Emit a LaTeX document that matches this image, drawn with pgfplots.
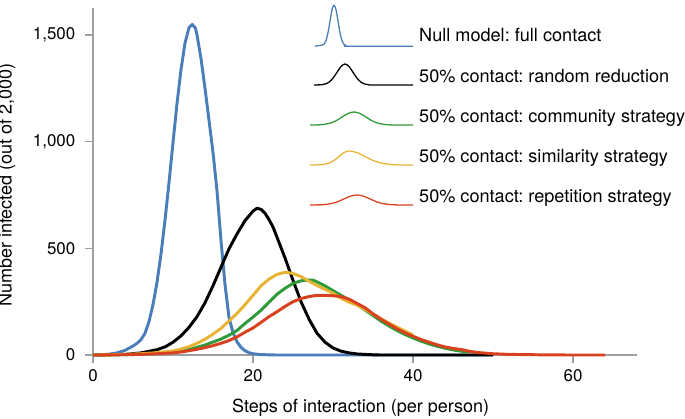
\documentclass[border=0pt]{standalone}
\usepackage{fontspec}
\setmainfont{TeX Gyre Heros}
\usepackage{pgfplots}
\pgfplotsset{compat=1.18}

\definecolor{cblue}{RGB}{74,126,187}
\definecolor{cgreen}{RGB}{47,154,58}
\definecolor{cyellow}{RGB}{232,179,50}
\definecolor{cred}{RGB}{217,65,30}
\definecolor{axgray}{RGB}{160,160,160}

% 1 px of the reference = 0.5435pt
\def\u{0.5435pt}

\begin{document}
\frenchspacing
\begin{tikzpicture}
\begin{axis}[
  name=ax,
  scale only axis,
  width=295.7pt, height=188.6pt,
  xmin=0, xmax=68, ymin=0, ymax=1627,
  axis lines=left,
  axis line style={-, draw=axgray, line width=0.8pt},
  tick style={draw=axgray, line width=0.8pt},
  tick align=outside,
  major tick length=4.6pt,
  xtick={0,20,40,60},
  ytick={0,500,1000,1500},
  scaled ticks=false,
  /pgf/number format/assume math mode=true,
  /pgf/number format/1000 sep={,},
  tick label style={font=\fontsize{9.2}{11}\selectfont},
  yticklabel style={xshift=-1.5pt},
  label style={font=\fontsize{9.8}{12}\selectfont},
  xlabel={Steps of interaction (per person)},
  ylabel={Number infected (out of 2,000)},
  xlabel style={at={(axis description cs:0.492,-0.152)}, anchor=center},
  ylabel style={at={(axis description cs:-0.158,0.49)}, anchor=center, rotate=0},
  clip=false,
  every axis plot/.append style={line width=1.6pt, line join=round},
  legend cell align=left,
  legend style={draw=none, fill=none, inner sep=0pt,
    at={(rel axis cs:0.397,1.011)}, anchor=north west,
    row sep=7.74pt, column sep=3pt,
    nodes={inner sep=0pt, minimum height=14pt, font=\fontsize{9.85}{12}\selectfont}},
]

% null model: full contact
\addplot[color=cblue, legend image code/.code={
  \draw[line width=0.7pt, x=\u, y=\u, yshift=-10*\u] plot[smooth, tension=0.5] coordinates {
   (3,0) (7,0.6) (10,1.2) (12,2) (14,5.6) (16,13.5) (18,25) (20,36.5) (22,41) (24,36.5)
   (26,25) (28,13.5) (30,5.6) (32,1.9) (34,0.5) (37,0) (101,0)};}]
coordinates {
 (0,0) (1,1) (2,4) (3,10) (4,22) (5,42) (5.5,55) (6,72) (6.5,102) (7,157)
 (7.5,236) (8,341) (8.5,474) (9,632) (9.5,809) (10,997) (10.5,1179) (11,1339)
 (11.5,1463) (12,1535) (12.4,1550) (12.8,1533) (13,1500) (13.5,1390) (14,1250)
 (14.5,1100) (15,950) (15.5,770) (16,535) (16.5,330) (17,175) (17.5,105)
 (18,62) (18.5,36) (19,20) (19.5,11) (20,6) (21,2) (22,1) (23,0) (50,0)
};
\addlegendentry{Null model: full contact}

% random reduction
\addplot[color=black, legend image code/.code={
  \draw[line width=0.7pt, x=\u, y=\u, yshift=-8*\u] plot[smooth, tension=0.5] coordinates {
   (2,0) (9,0.2) (13,0.9) (17,2.8) (21,6.8) (25,12.7) (29,18.5) (33,21) (37,18.5)
   (41,12.7) (45,6.8) (49,2.8) (53,0.9) (57,0.2) (61,0) (101,0)};}]
coordinates {
 (0,0) (2,1) (4,3) (6,10) (8,25) (9,38) (10,60) (11,90) (12,130) (13,180)
 (14,245) (15,325) (16,412) (17,498) (18,568) (19,630) (20,675) (20.5,688)
 (21,683) (21.5,665) (22,635) (22.5,600) (23,552) (24,455) (25,350) (26,250)
 (27,168) (28,102) (29,60) (30,33) (31,18) (32,10) (33,5) (34,3) (35,1) (36,0) (50,0)
};
\addlegendentry{50\% contact: random reduction}

% community strategy
\addplot[color=cgreen, legend image code/.code={
  \draw[line width=0.7pt, x=\u, y=\u, yshift=-8*\u] plot[smooth, tension=0.5] coordinates {
   (-2,0) (6,0.1) (12,0.6) (18,1.8) (24,4.2) (30,7.9) (36,11.5) (42,13) (48,11.5)
   (54,7.9) (60,4.2) (66,1.8) (72,0.6) (78,0.1) (84,0) (101,0)};}]
coordinates {
 (0,0) (2,1) (4,2) (6,4) (8,8) (10,14) (11,19) (12,26) (13,36) (14,47) (15,61)
 (16,75) (17,93) (18,115) (19,148) (20,178) (21,210) (22,248) (23,285) (24,313)
 (25,336) (26,348) (27,352) (27.5,351) (28,343) (29,324) (30,302) (31,280)
 (32,259) (33,236) (34,211) (35,185) (36,159) (37,136) (38,115) (39,96) (40,80)
 (41,65) (42,52) (43,41) (44,32) (45,24) (46,18) (47,13)
};
\addlegendentry{50\% contact: community strategy}

% similarity strategy
\addplot[color=cyellow, legend image code/.code={
  \draw[line width=0.7pt, x=\u, y=\u, yshift=-8*\u] plot[smooth, tension=0.5] coordinates {
   (-2,0) (7,0.15) (12,0.6) (17,1.9) (22,4.5) (27,8.5) (32,12.4) (37,14) (45,12.4)
   (53,8.5) (61,4.5) (69,1.9) (77,0.6) (85,0.1) (92,0) (101,0)};}]
coordinates {
 (0,0) (2,1) (4,3) (6,6) (8,11) (10,19) (11,28) (12,39) (13,55) (14,74) (15,98)
 (16,125) (17,160) (18,195) (19,236) (20,280) (21,324) (22,356) (23,378)
 (24,388) (24.5,386) (25,382) (26,368) (27,346) (28,326) (29,308) (30,290)
 (31,266) (32,248) (33,234) (34,214) (35,192) (36,170) (37,150) (38,131)
 (39,112) (40,94)
};
\addlegendentry{50\% contact: similarity strategy}

% repetition strategy
\addplot[color=cred, legend image code/.code={
  \draw[line width=0.7pt, x=\u, y=\u, yshift=-8*\u] plot[smooth, tension=0.5] coordinates {
   (-2,0) (6,0.1) (12.5,0.44) (19,1.35) (25.5,3.2) (32,6.1) (38.5,8.8) (45,10)
   (51.5,8.8) (58,6.1) (64.5,3.2) (71,1.35) (77.5,0.44) (84,0.1) (90,0) (101,0)};}]
coordinates {
 (0,0) (2,0.5) (4,1.5) (6,3) (8,6) (10,10) (11,14) (12,20) (13,27) (14,35)
 (15,44) (16,55) (17,68) (18,85) (19,107) (20,127) (21,153) (22,180) (23,203)
 (24,228) (25,250) (26,265) (27,274) (28,280) (29,280) (30,278) (31,274)
 (32,262) (33,242) (34,222) (35,193) (36,168) (37,145) (38,123) (39,104)
 (40,88) (41,73) (42,60) (43,48) (44,38) (45,31) (46,26) (47,18) (48,12)
 (49,9) (50,6) (52,3) (54,2) (56,1) (58,0.5) (60,0) (64,0)
};
\addlegendentry{50\% contact: repetition strategy}

\end{axis}
\pgfresetboundingbox
\path ([shift={(-50.55pt,-34.24pt)}]ax.south west) rectangle +(372.3pt,227.2pt);
\end{tikzpicture}
\end{document}
